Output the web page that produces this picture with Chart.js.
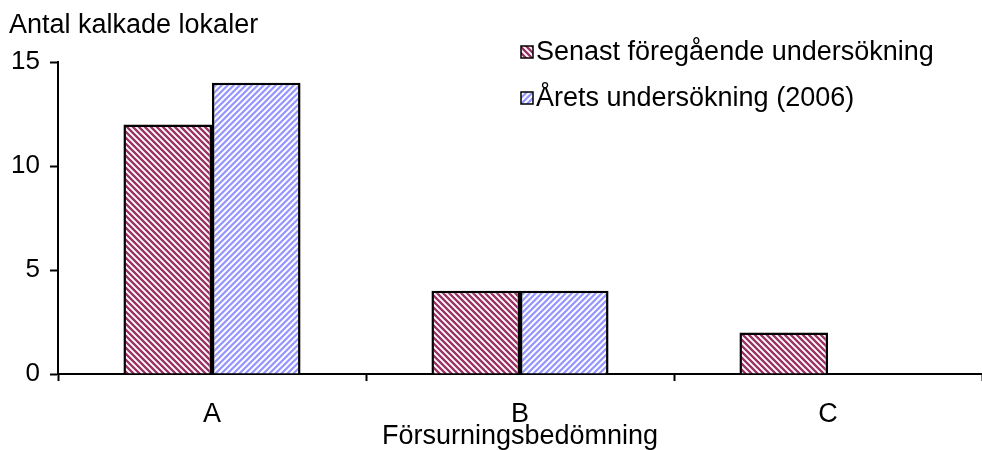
<!DOCTYPE html>
<html>
<head>
<meta charset="utf-8">
<script src="https://cdn.jsdelivr.net/npm/chart.js@4/dist/chart.umd.min.js"></script>
<style>
  html, body { margin: 0; padding: 0; background: #fff; }
  #wrap { width: 982px; height: 450px; }
</style>
</head>
<body>
<div id="wrap"><canvas id="c" width="982" height="450"></canvas></div>
<script>
// Chart data
const categories = ['A', 'B', 'C'];
const seriesNames = ['Senast föregående undersökning', 'Årets undersökning (2006)'];
const previousSurvey = [12, 4, 2];
const currentSurvey = [14, 4, null];
const yTicks = [0, 5, 10, 15];
const yTitle = 'Antal kalkade lokaler';
const xTitle = 'Försurningsbedömning';

const FONT = '"Liberation Sans", Arial, sans-serif';
const FS = 27;

// Soft diagonal hatch tile: dir = 1 draws "\\" stripes, dir = -1 draws "//" stripes
function hatch(rgb, dir, weight) {
  const n = 6;
  const cv = document.createElement('canvas');
  cv.width = n; cv.height = n;
  const cx = cv.getContext('2d');
  const img = cx.createImageData(n, n);
  for (let y = 0; y < n; y++) {
    for (let x = 0; x < n; x++) {
      const k = dir > 0 ? (x - y) : (x + y);
      const c = Math.cos(2 * Math.PI * k / n);
      const t = Math.max(0, Math.min(1, weight + 0.75 * c));
      const i = (y * n + x) * 4;
      img.data[i]     = Math.round(255 + (rgb[0] - 255) * t);
      img.data[i + 1] = Math.round(255 + (rgb[1] - 255) * t);
      img.data[i + 2] = Math.round(255 + (rgb[2] - 255) * t);
      img.data[i + 3] = 255;
    }
  }
  cx.putImageData(img, 0, 0);
  return cx.createPattern(cv, 'repeat');
}

const redHatch = hatch([153, 51, 102], 1, 0.6);
const blueHatch = hatch([150, 150, 255], -1, 0.55);

// Axis title above the value axis and a stacked legend inside the plot
const overlay = {
  id: 'overlay',
  afterDraw(chart) {
    const ctx = chart.ctx;
    ctx.save();
    ctx.fillStyle = '#000';
    ctx.font = FS + 'px ' + FONT;
    ctx.textAlign = 'left';
    ctx.textBaseline = 'middle';
    ctx.fillText(yTitle, 9, 26);

    const rows = [52, 98];
    chart.data.datasets.forEach((ds, i) => {
      const y = rows[i];
      ctx.fillStyle = ds.backgroundColor;
      ctx.fillRect(521, y - 6, 12, 12);
      ctx.strokeStyle = '#000';
      ctx.lineWidth = 1.5;
      ctx.strokeRect(521, y - 6, 12, 12);
      ctx.fillStyle = '#000';
      ctx.fillText(ds.label, 536, y + 1);
    });
    ctx.restore();
  }
};

new Chart(document.getElementById('c'), {
  type: 'bar',
  data: {
    labels: categories,
    datasets: [
      {
        label: seriesNames[0],
        data: previousSurvey,
        backgroundColor: redHatch,
        borderColor: '#000',
        borderWidth: 2.5,
        borderSkipped: 'bottom'
      },
      {
        label: seriesNames[1],
        data: currentSurvey,
        backgroundColor: blueHatch,
        borderColor: '#000',
        borderWidth: 2.5,
        borderSkipped: 'bottom'
      }
    ]
  },
  options: {
    responsive: false,
    animation: false,
    devicePixelRatio: 1,
    layout: { padding: { top: 62, left: 0, right: 0, bottom: 0 } },
    datasets: { bar: { barPercentage: 1.0, categoryPercentage: 0.575 } },
    plugins: {
      legend: { display: false },
      tooltip: { enabled: false }
    },
    scales: {
      x: {
        offset: true,
        grid: {
          offset: true,
          drawOnChartArea: false,
          drawTicks: true,
          tickLength: 7,
          tickWidth: 2,
          tickColor: '#000'
        },
        border: { display: true, color: '#000', width: 2 },
        ticks: {
          color: '#000',
          font: { family: FONT, size: FS },
          padding: 17
        },
        title: {
          display: true,
          text: xTitle,
          color: '#000',
          font: { family: FONT, size: FS, lineHeight: 1.0 },
          padding: { top: 0, bottom: 0 }
        },
        afterFit(scale) { scale.height = 76; }
      },
      y: {
        min: 0,
        max: 15,
        afterBuildTicks(scale) { scale.ticks = yTicks.map(v => ({ value: v })); },
        grid: {
          drawOnChartArea: false,
          drawTicks: true,
          tickLength: 8,
          tickWidth: 2,
          tickColor: '#000'
        },
        border: { display: true, color: '#000', width: 2 },
        ticks: {
          color: '#000',
          font: { family: FONT, size: FS - 1 },
          padding: 10
        },
        afterFit(scale) { scale.width = 58; }
      }
    }
  },
  plugins: [overlay]
});
</script>
</body>
</html>
